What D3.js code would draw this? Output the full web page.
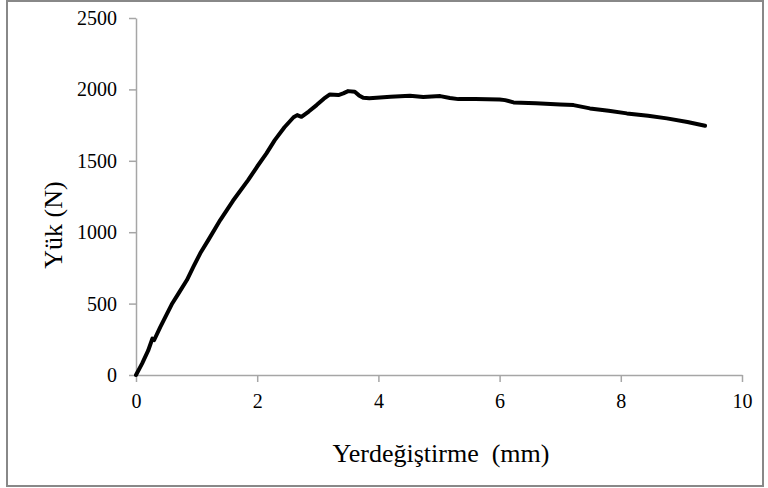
<!DOCTYPE html>
<html>
<head>
<meta charset="utf-8">
<script src="https://cdn.jsdelivr.net/npm/d3@7"></script>
<style>
  body { margin: 0; background: #fff; }
  svg text { font-family: "Liberation Serif", "Times New Roman", serif; fill: #000; }
</style>
</head>
<body>
<script>
// Data
const displacement = [0, 0.1, 0.2, 0.27, 0.3, 0.4, 0.5, 0.59, 0.7, 0.84, 0.95, 1.06, 1.2, 1.39, 1.6, 1.85, 2.0, 2.15, 2.29, 2.45, 2.6, 2.66, 2.73, 2.85, 2.98, 3.1, 3.2, 3.34, 3.42, 3.5, 3.61, 3.68, 3.75, 3.85, 3.97, 4.2, 4.52, 4.74, 5.02, 5.18, 5.32, 5.6, 6.0, 6.09, 6.23, 6.6, 7.0, 7.22, 7.49, 7.8, 8.1, 8.45, 8.76, 9.1, 9.39];
const load = [0, 80, 170, 255, 245, 335, 420, 495, 570, 665, 760, 852, 950, 1085, 1220, 1365, 1460, 1550, 1645, 1735, 1805, 1820, 1808, 1845, 1890, 1935, 1965, 1960, 1972, 1988, 1983, 1958, 1941, 1938, 1941, 1948, 1955, 1946, 1953, 1940, 1932, 1932, 1930, 1925, 1909, 1903, 1895, 1890, 1867, 1850, 1832, 1815, 1797, 1772, 1745];
const xTicks = [0, 2, 4, 6, 8, 10];
const yTicks = [0, 500, 1000, 1500, 2000, 2500];

const data = displacement.map((d, i) => ({ x: d, y: load[i] }));

const width = 768;
const height = 488;
const margin = { top: 18, right: 26, bottom: 113, left: 136 };

const svg = d3.select("body")
  .append("svg")
  .attr("width", width)
  .attr("height", height);

// outer frame
svg.append("rect")
  .attr("x", 7)
  .attr("y", 1)
  .attr("width", 756)
  .attr("height", 485)
  .attr("fill", "none")
  .attr("stroke", "#888")
  .attr("stroke-width", 2);

const x = d3.scaleLinear()
  .domain([0, 10])
  .range([margin.left, width - margin.right]);

const y = d3.scaleLinear()
  .domain([0, 2500])
  .range([height - margin.bottom, margin.top]);

// x axis
const xAxis = svg.append("g")
  .attr("transform", `translate(0,${y(0)})`)
  .call(d3.axisBottom(x).tickValues(xTicks).tickFormat(d3.format("d"))
    .tickSize(7).tickSizeOuter(0).tickPadding(12));

// y axis
const yAxis = svg.append("g")
  .attr("transform", `translate(${x(0)},0)`)
  .call(d3.axisLeft(y).tickValues(yTicks).tickFormat(d3.format("d"))
    .tickSize(7).tickSizeOuter(0).tickPadding(12));

[xAxis, yAxis].forEach((g) => {
  g.attr("font-family", null).attr("font-size", null);
  g.select(".domain").attr("stroke", "#a6a6a6").attr("stroke-width", 1.5);
  g.selectAll(".tick line").attr("stroke", "#a6a6a6").attr("stroke-width", 1.5);
  g.selectAll(".tick text")
    .style("font-family", "'Liberation Serif', serif")
    .style("font-size", "20px")
    .attr("fill", "#000");
});

// curve
const line = d3.line()
  .x((d) => x(d.x))
  .y((d) => y(d.y));

svg.append("path")
  .datum(data)
  .attr("d", line)
  .attr("fill", "none")
  .attr("stroke", "#000")
  .attr("stroke-width", 4)
  .attr("stroke-linejoin", "round")
  .attr("stroke-linecap", "round");

// axis titles
svg.append("text")
  .attr("x", 441)
  .attr("y", 462)
  .attr("text-anchor", "middle")
  .style("font-size", "26px")
  .style("white-space", "pre")
  .text("Yerdeğiştirme  (mm)");

svg.append("text")
  .attr("transform", "translate(62,225) rotate(-90)")
  .attr("text-anchor", "middle")
  .style("font-size", "26px")
  .text("Yük (N)");
</script>
</body>
</html>
